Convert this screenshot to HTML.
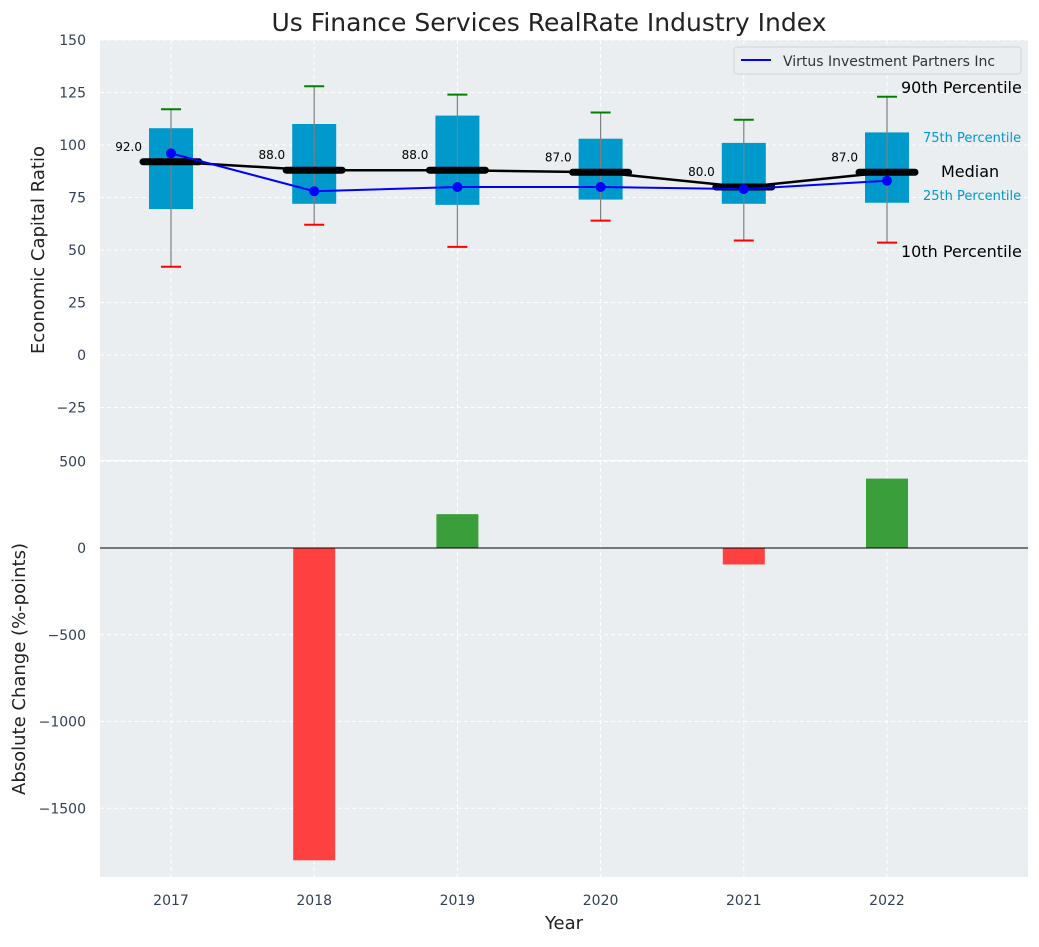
<!DOCTYPE html>
<html><head><meta charset="utf-8"><style>
body{margin:0;background:#fff;font-family:"Liberation Sans","DejaVu Sans",sans-serif}
svg text{font-family:"DejaVu Sans","Liberation Sans",sans-serif}
</style></head><body>
<svg id="c" width="1039" height="942" xmlns="http://www.w3.org/2000/svg"></svg>
<script>
const years=[2017,2018,2019,2020,2021,2022];
const q1=[69.5,72,71.5,74,72,72.5];
const q3=[108,110,114,103,101,106];
const p90=[117,128,124,115.5,112,123];
const p10=[42,62,51.5,64,54.5,53.5];
const medians=[92,88,88,87,80,87];
const virtus=[96,78,80,80,79,83];
const changes=[0,-1800,195,0,-95,400];
const topTicks=[150,125,100,75,50,25,0,-25];
const botTicks=[500,0,-500,-1000,-1500];

const svg=document.getElementById('c');
const NS='http://www.w3.org/2000/svg';
function mk(t,a,p){const e=document.createElementNS(NS,t);for(const k in a)e.setAttribute(k,a[k]);(p||svg).appendChild(e);return e;}
const X0=100,X1=1028;
const x=v=>171+(v-2017)*143.2;
const yT=v=>355-v*2.1;
const yB=v=>548-v*0.1735;

let e=mk('rect',{x:X0,y:40,width:X1-X0,height:420,fill:'#eaeef0'});


e=mk('rect',{x:X0,y:461,width:X1-X0,height:416,fill:'#eaeef0'});



topTicks.forEach(t=>{mk('line',{x1:X0,x2:X1,y1:yT(t),y2:yT(t),stroke:'#fff','stroke-dasharray':'4,3'});
 e=mk('text',{x:86,y:yT(t)+5,'text-anchor':'end','font-size':14,fill:'#334155'});e.textContent=t<0?'\u2212'+(-t):t;
 
 });
botTicks.forEach(t=>{mk('line',{x1:X0,x2:X1,y1:yB(t),y2:yB(t),stroke:'#fff','stroke-dasharray':'4,3'});
 e=mk('text',{x:86,y:yB(t)+5,'text-anchor':'end','font-size':14,fill:'#334155'});e.textContent=t<0?'\u2212'+(-t):t;
 
 });
years.forEach(yr=>{mk('line',{x1:x(yr),x2:x(yr),y1:40,y2:460,stroke:'#fff','stroke-dasharray':'4,3'});
 mk('line',{x1:x(yr),x2:x(yr),y1:461,y2:877,stroke:'#fff','stroke-dasharray':'4,3'});
 e=mk('text',{x:x(yr),y:905,'text-anchor':'middle','font-size':14,fill:'#334155'});e.textContent=yr;
 
 });

years.forEach((yr,i)=>{const cx=x(yr);
 e=mk('rect',{x:cx-22,y:yT(q3[i]),width:44,height:yT(q1[i])-yT(q3[i]),fill:'#0099cc'});
 
 
 mk('line',{x1:cx,x2:cx,y1:yT(p90[i]),y2:yT(p10[i]),stroke:'#808080','stroke-width':1.2});
 mk('line',{x1:cx-10,x2:cx+10,y1:yT(p90[i]),y2:yT(p90[i]),stroke:'green','stroke-width':2});
 mk('line',{x1:cx-10,x2:cx+10,y1:yT(p10[i]),y2:yT(p10[i]),stroke:'red','stroke-width':2});
});
e=mk('polyline',{points:years.map((yr,i)=>x(yr)+','+yT(medians[i])).join(' '),fill:'none',stroke:'#000','stroke-width':2.5});


years.forEach((yr,i)=>{const cx=x(yr);
 e=mk('line',{x1:cx-28,x2:cx+28,y1:yT(medians[i]),y2:yT(medians[i]),stroke:'#000','stroke-width':7,'stroke-linecap':'round'});
 
 
 e=mk('text',{x:cx-29,y:yT(medians[i])-11,'text-anchor':'end','font-size':12,fill:'#000'});e.textContent=medians[i].toFixed(1);
 
 
});
e=mk('polyline',{points:years.map((yr,i)=>x(yr)+','+yT(virtus[i])).join(' '),fill:'none',stroke:'blue','stroke-width':2});


years.forEach((yr,i)=>{e=mk('circle',{cx:x(yr),cy:yT(virtus[i]),r:5,fill:'blue'});
 
 });

const ann=[[901,93,'90th Percentile',16,'#000'],[923,142,'75th Percentile',13,'#0099cc'],[941,177,'Median',16,'#000'],[923,200,'25th Percentile',13,'#0099cc'],[901,257,'10th Percentile',16,'#000']];
ann.forEach(a=>{e=mk('text',{x:a[0],y:a[1],'font-size':a[3],fill:a[4]});e.textContent=a[2];
 
 });

e=mk('rect',{x:734,y:47,width:287,height:27,fill:'#eaeef0',stroke:'#cfd4d8',rx:3});


mk('line',{x1:741,x2:771,y1:60,y2:60,stroke:'blue','stroke-width':2});
e=mk('text',{x:783,y:66,'font-size':14,fill:'#333'});e.textContent='Virtus Investment Partners Inc';



years.forEach((yr,i)=>{const v=changes[i];if(v===0)return;
 e=mk('rect',{x:x(yr)-21,y:Math.min(yB(v),yB(0)),width:42,height:Math.abs(yB(v)-yB(0)),fill:v<0?'#ff4040':'#3a9e3a'});
 
 });
mk('line',{x1:X0,x2:X1,y1:yB(0),y2:yB(0),stroke:'#000','stroke-width':1});

e=mk('text',{x:549,y:31,'text-anchor':'middle','font-size':25,fill:'#222'});e.textContent='Us Finance Services RealRate Industry Index';


e=mk('text',{x:564,y:929,'text-anchor':'middle','font-size':18,fill:'#222'});e.textContent='Year';


e=mk('text',{x:0,y:0,'text-anchor':'middle','font-size':18,fill:'#222',transform:'translate(44,250) rotate(-90)'});e.textContent='Economic Capital Ratio';


e=mk('text',{x:0,y:0,'text-anchor':'middle','font-size':18,fill:'#222',transform:'translate(25,669) rotate(-90)'});e.textContent='Absolute Change (%-points)';


</script>
</body></html>
